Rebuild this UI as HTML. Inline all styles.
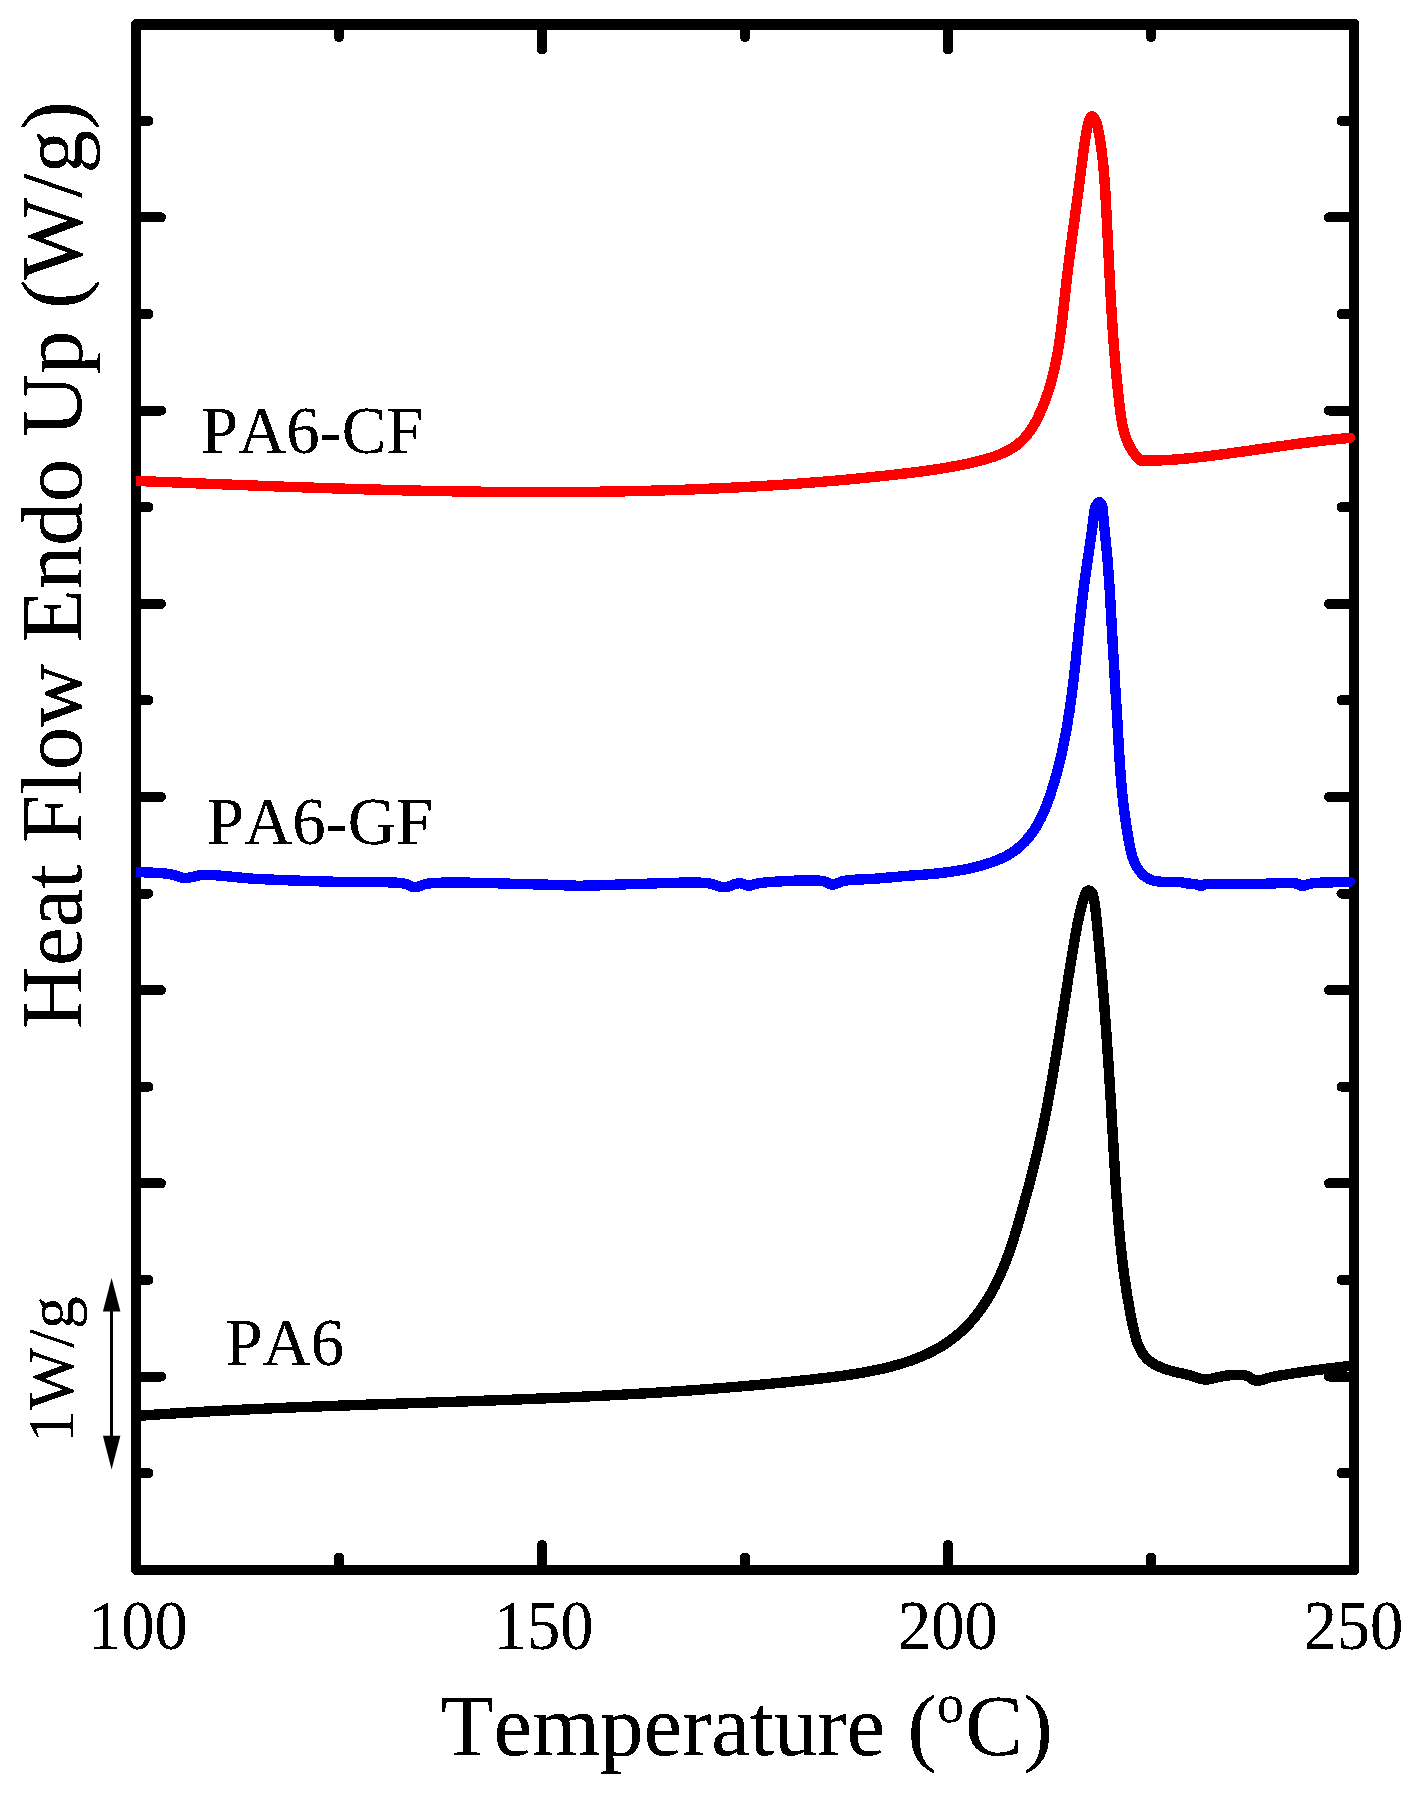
<!DOCTYPE html>
<html><head><meta charset="utf-8"><title>DSC</title>
<style>
html,body{margin:0;padding:0;background:#fff;}
body{width:1412px;height:1795px;overflow:hidden;}
svg{display:block;}
text{font-family:"Liberation Serif",serif;fill:#000;font-kerning:none;}
</style></head><body>
<svg width="1412" height="1795" viewBox="0 0 1412 1795">
<rect width="1412" height="1795" fill="#fff"/>
<g fill="#000" shape-rendering="crispEdges">
<path fill-rule="evenodd" d="M134 19L1356 19L1359 22L1359 1572L1356 1575L134 1575L131 1572L131 22ZM141 30L1349 30L1349 1565L141 1565Z"/>
</g>
<g stroke="#000" stroke-width="10" stroke-linecap="round" fill="none" shape-rendering="crispEdges">
<line x1="136.0" y1="217.4" x2="161.0" y2="217.4"/>
<line x1="1354.0" y1="217.4" x2="1329.0" y2="217.4"/>
<line x1="136.0" y1="410.6" x2="161.0" y2="410.6"/>
<line x1="1354.0" y1="410.6" x2="1329.0" y2="410.6"/>
<line x1="136.0" y1="603.8" x2="161.0" y2="603.8"/>
<line x1="1354.0" y1="603.8" x2="1329.0" y2="603.8"/>
<line x1="136.0" y1="796.9" x2="161.0" y2="796.9"/>
<line x1="1354.0" y1="796.9" x2="1329.0" y2="796.9"/>
<line x1="136.0" y1="990.1" x2="161.0" y2="990.1"/>
<line x1="1354.0" y1="990.1" x2="1329.0" y2="990.1"/>
<line x1="136.0" y1="1183.3" x2="161.0" y2="1183.3"/>
<line x1="1354.0" y1="1183.3" x2="1329.0" y2="1183.3"/>
<line x1="136.0" y1="1376.5" x2="161.0" y2="1376.5"/>
<line x1="1354.0" y1="1376.5" x2="1329.0" y2="1376.5"/>
<line x1="136.0" y1="120.8" x2="148.5" y2="120.8"/>
<line x1="1354.0" y1="120.8" x2="1341.5" y2="120.8"/>
<line x1="136.0" y1="314.0" x2="148.5" y2="314.0"/>
<line x1="1354.0" y1="314.0" x2="1341.5" y2="314.0"/>
<line x1="136.0" y1="507.2" x2="148.5" y2="507.2"/>
<line x1="1354.0" y1="507.2" x2="1341.5" y2="507.2"/>
<line x1="136.0" y1="700.3" x2="148.5" y2="700.3"/>
<line x1="1354.0" y1="700.3" x2="1341.5" y2="700.3"/>
<line x1="136.0" y1="893.5" x2="148.5" y2="893.5"/>
<line x1="1354.0" y1="893.5" x2="1341.5" y2="893.5"/>
<line x1="136.0" y1="1086.7" x2="148.5" y2="1086.7"/>
<line x1="1354.0" y1="1086.7" x2="1341.5" y2="1086.7"/>
<line x1="136.0" y1="1279.9" x2="148.5" y2="1279.9"/>
<line x1="1354.0" y1="1279.9" x2="1341.5" y2="1279.9"/>
<line x1="136.0" y1="1473.1" x2="148.5" y2="1473.1"/>
<line x1="1354.0" y1="1473.1" x2="1341.5" y2="1473.1"/>
<line x1="542.0" y1="24.5" x2="542.0" y2="49.5"/>
<line x1="542.0" y1="1570.0" x2="542.0" y2="1545.0"/>
<line x1="948.0" y1="24.5" x2="948.0" y2="49.5"/>
<line x1="948.0" y1="1570.0" x2="948.0" y2="1545.0"/>
<line x1="339.0" y1="24.5" x2="339.0" y2="37.0"/>
<line x1="339.0" y1="1570.0" x2="339.0" y2="1557.5"/>
<line x1="745.0" y1="24.5" x2="745.0" y2="37.0"/>
<line x1="745.0" y1="1570.0" x2="745.0" y2="1557.5"/>
<line x1="1151.0" y1="24.5" x2="1151.0" y2="37.0"/>
<line x1="1151.0" y1="1570.0" x2="1151.0" y2="1557.5"/>
</g>
<clipPath id="cp"><rect x="136" y="0" width="1300" height="1795"/></clipPath>
<g fill="none" stroke-width="10.4" stroke-linecap="round" stroke-linejoin="round" clip-path="url(#cp)" shape-rendering="crispEdges">
<path stroke="#000" d="M120.0 1417.2 L122.0 1417.0 L124.0 1416.9 L126.0 1416.7 L128.0 1416.6 L130.0 1416.4 L132.0 1416.3 L134.0 1416.2 L136.0 1416.0 L138.0 1415.9 L140.0 1415.7 L142.0 1415.6 L144.0 1415.4 L146.0 1415.3 L148.0 1415.2 L150.0 1415.0 L152.0 1414.9 L154.0 1414.7 L156.0 1414.6 L158.0 1414.5 L160.0 1414.3 L162.0 1414.2 L164.0 1414.1 L166.0 1414.0 L168.0 1413.8 L170.0 1413.7 L172.0 1413.6 L174.0 1413.4 L176.0 1413.3 L178.0 1413.2 L180.0 1413.1 L182.0 1413.0 L184.0 1412.8 L186.0 1412.7 L188.0 1412.6 L190.0 1412.5 L192.0 1412.4 L194.0 1412.2 L196.0 1412.1 L198.0 1412.0 L200.0 1411.9 L202.0 1411.8 L204.0 1411.7 L206.0 1411.6 L208.0 1411.5 L210.0 1411.3 L212.0 1411.2 L214.0 1411.1 L216.0 1411.0 L218.0 1410.9 L220.0 1410.8 L222.0 1410.7 L224.0 1410.6 L226.0 1410.5 L228.0 1410.4 L230.0 1410.3 L232.0 1410.2 L234.0 1410.1 L236.0 1410.0 L238.0 1409.9 L240.0 1409.8 L242.0 1409.7 L244.0 1409.6 L246.0 1409.5 L248.0 1409.4 L250.0 1409.3 L252.0 1409.2 L254.0 1409.1 L256.0 1409.0 L258.0 1408.9 L260.0 1408.9 L262.0 1408.8 L264.0 1408.7 L266.0 1408.6 L268.0 1408.5 L270.0 1408.4 L272.0 1408.3 L274.0 1408.2 L276.0 1408.1 L278.0 1408.1 L280.0 1408.0 L282.0 1407.9 L284.0 1407.8 L286.0 1407.7 L288.0 1407.6 L290.0 1407.6 L292.0 1407.5 L294.0 1407.4 L296.0 1407.3 L298.0 1407.2 L300.0 1407.2 L302.0 1407.1 L304.0 1407.0 L306.0 1406.9 L308.0 1406.8 L310.0 1406.8 L312.0 1406.7 L314.0 1406.6 L316.0 1406.5 L318.0 1406.4 L320.0 1406.4 L322.0 1406.3 L324.0 1406.2 L326.0 1406.1 L328.0 1406.1 L330.0 1406.0 L332.0 1405.9 L334.0 1405.9 L336.0 1405.8 L338.0 1405.7 L340.0 1405.6 L342.0 1405.6 L344.0 1405.5 L346.0 1405.4 L348.0 1405.3 L350.0 1405.3 L352.0 1405.2 L354.0 1405.1 L356.0 1405.1 L358.0 1405.0 L360.0 1404.9 L362.0 1404.9 L364.0 1404.8 L366.0 1404.7 L368.0 1404.6 L370.0 1404.6 L372.0 1404.5 L374.0 1404.4 L376.0 1404.4 L378.0 1404.3 L380.0 1404.2 L382.0 1404.2 L384.0 1404.1 L386.0 1404.0 L388.0 1404.0 L390.0 1403.9 L392.0 1403.8 L394.0 1403.8 L396.0 1403.7 L398.0 1403.6 L400.0 1403.6 L402.0 1403.5 L404.0 1403.4 L406.0 1403.4 L408.0 1403.3 L410.0 1403.2 L412.0 1403.2 L414.0 1403.1 L416.0 1403.0 L418.0 1403.0 L420.0 1402.9 L422.0 1402.8 L424.0 1402.8 L426.0 1402.7 L428.0 1402.6 L430.0 1402.6 L432.0 1402.5 L434.0 1402.4 L436.0 1402.3 L438.0 1402.3 L440.0 1402.2 L442.0 1402.1 L444.0 1402.1 L446.0 1402.0 L448.0 1401.9 L450.0 1401.9 L452.0 1401.8 L454.0 1401.7 L456.0 1401.7 L458.0 1401.6 L460.0 1401.5 L462.0 1401.5 L464.0 1401.4 L466.0 1401.3 L468.0 1401.3 L470.0 1401.2 L472.0 1401.1 L474.0 1401.0 L476.0 1401.0 L478.0 1400.9 L480.0 1400.8 L482.0 1400.8 L484.0 1400.7 L486.0 1400.6 L488.0 1400.5 L490.0 1400.5 L492.0 1400.4 L494.0 1400.3 L496.0 1400.3 L498.0 1400.2 L500.0 1400.1 L502.0 1400.0 L504.0 1400.0 L506.0 1399.9 L508.0 1399.8 L510.0 1399.7 L512.0 1399.7 L514.0 1399.6 L516.0 1399.5 L518.0 1399.4 L520.0 1399.4 L522.0 1399.3 L524.0 1399.2 L526.0 1399.1 L528.0 1399.0 L530.0 1399.0 L532.0 1398.9 L534.0 1398.8 L536.0 1398.7 L538.0 1398.6 L540.0 1398.6 L542.0 1398.5 L544.0 1398.4 L546.0 1398.3 L548.0 1398.2 L550.0 1398.1 L552.0 1398.0 L554.0 1398.0 L556.0 1397.9 L558.0 1397.8 L560.0 1397.7 L562.0 1397.6 L564.0 1397.5 L566.0 1397.4 L568.0 1397.3 L570.0 1397.3 L572.0 1397.2 L574.0 1397.1 L576.0 1397.0 L578.0 1396.9 L580.0 1396.8 L582.0 1396.7 L584.0 1396.6 L586.0 1396.5 L588.0 1396.4 L590.0 1396.3 L592.0 1396.2 L594.0 1396.1 L596.0 1396.0 L598.0 1395.9 L600.0 1395.8 L602.0 1395.7 L604.0 1395.6 L606.0 1395.5 L608.0 1395.4 L610.0 1395.3 L612.0 1395.2 L614.0 1395.1 L616.0 1395.0 L618.0 1394.9 L620.0 1394.8 L622.0 1394.7 L624.0 1394.5 L626.0 1394.4 L628.0 1394.3 L630.0 1394.2 L632.0 1394.1 L634.0 1394.0 L636.0 1393.9 L638.0 1393.8 L640.0 1393.6 L642.0 1393.5 L644.0 1393.4 L646.1 1393.3 L648.1 1393.2 L650.1 1393.0 L652.1 1392.9 L654.1 1392.8 L656.1 1392.7 L658.1 1392.5 L660.1 1392.4 L662.1 1392.3 L664.1 1392.2 L666.1 1392.0 L668.1 1391.9 L670.1 1391.8 L672.1 1391.6 L674.1 1391.5 L676.1 1391.4 L678.1 1391.2 L680.1 1391.1 L682.1 1391.0 L684.1 1390.8 L686.1 1390.7 L688.0 1390.5 L690.0 1390.4 L692.0 1390.3 L694.0 1390.1 L696.0 1390.0 L698.0 1389.8 L700.0 1389.7 L702.0 1389.5 L704.0 1389.4 L706.0 1389.2 L708.0 1389.1 L710.0 1388.9 L712.0 1388.8 L714.0 1388.6 L716.0 1388.5 L718.0 1388.3 L720.0 1388.2 L722.0 1388.0 L724.0 1387.8 L726.0 1387.7 L728.0 1387.5 L730.0 1387.3 L732.0 1387.2 L734.0 1387.0 L736.0 1386.9 L738.0 1386.7 L740.0 1386.5 L742.0 1386.3 L744.0 1386.2 L746.0 1386.0 L747.9 1385.8 L749.9 1385.6 L751.9 1385.5 L753.9 1385.3 L755.9 1385.1 L757.9 1384.9 L759.9 1384.7 L761.9 1384.6 L763.9 1384.4 L765.9 1384.2 L767.9 1384.0 L769.9 1383.8 L771.9 1383.6 L773.8 1383.4 L775.8 1383.2 L777.8 1383.0 L779.8 1382.9 L781.8 1382.7 L783.8 1382.5 L785.8 1382.3 L787.8 1382.1 L789.7 1381.9 L791.7 1381.7 L793.7 1381.4 L795.7 1381.2 L797.7 1381.0 L799.7 1380.8 L801.7 1380.6 L803.7 1380.4 L805.6 1380.2 L807.6 1380.0 L809.6 1379.8 L811.6 1379.5 L813.6 1379.3 L815.6 1379.1 L817.5 1378.9 L819.5 1378.6 L821.5 1378.4 L823.5 1378.2 L825.5 1378.0 L827.4 1377.7 L829.4 1377.5 L831.4 1377.2 L833.4 1377.0 L835.4 1376.7 L837.3 1376.5 L839.3 1376.2 L841.3 1376.0 L843.3 1375.7 L845.3 1375.4 L847.2 1375.1 L849.2 1374.8 L851.2 1374.5 L853.2 1374.2 L855.1 1373.9 L857.1 1373.6 L859.1 1373.3 L861.1 1372.9 L863.0 1372.6 L865.0 1372.2 L867.0 1371.9 L869.0 1371.5 L870.9 1371.1 L872.9 1370.7 L874.9 1370.3 L876.9 1369.9 L878.8 1369.5 L880.8 1369.0 L882.8 1368.6 L884.7 1368.1 L886.7 1367.7 L888.7 1367.2 L890.6 1366.7 L892.6 1366.2 L894.5 1365.6 L896.5 1365.1 L898.4 1364.5 L900.4 1364.0 L902.3 1363.4 L904.2 1362.8 L906.1 1362.1 L908.1 1361.5 L910.0 1360.9 L911.9 1360.2 L913.7 1359.5 L915.6 1358.8 L917.5 1358.1 L919.3 1357.3 L921.2 1356.5 L923.0 1355.7 L924.9 1354.9 L926.7 1354.1 L928.5 1353.3 L930.3 1352.4 L932.1 1351.5 L933.8 1350.6 L935.6 1349.6 L937.3 1348.7 L939.1 1347.7 L940.8 1346.7 L942.5 1345.7 L944.1 1344.6 L945.8 1343.5 L947.5 1342.4 L949.1 1341.3 L950.7 1340.1 L952.3 1338.9 L953.9 1337.7 L955.4 1336.5 L957.0 1335.2 L958.5 1333.9 L960.0 1332.6 L961.5 1331.3 L963.0 1329.9 L964.4 1328.5 L965.8 1327.1 L967.2 1325.6 L968.6 1324.2 L970.0 1322.7 L971.3 1321.2 L972.7 1319.7 L974.0 1318.1 L975.2 1316.6 L976.5 1315.0 L977.7 1313.4 L979.0 1311.8 L980.2 1310.2 L981.3 1308.5 L982.5 1306.9 L983.6 1305.2 L984.7 1303.5 L985.8 1301.9 L986.9 1300.2 L987.9 1298.5 L989.0 1296.8 L990.0 1295.0 L991.0 1293.3 L991.9 1291.6 L992.9 1289.8 L993.8 1288.1 L994.8 1286.3 L995.7 1284.5 L996.5 1282.7 L997.4 1280.9 L998.3 1279.1 L999.1 1277.3 L999.9 1275.5 L1000.7 1273.7 L1001.5 1271.9 L1002.3 1270.0 L1003.1 1268.2 L1003.8 1266.4 L1004.6 1264.5 L1005.3 1262.6 L1006.0 1260.8 L1006.7 1258.9 L1007.4 1257.0 L1008.1 1255.2 L1008.8 1253.3 L1009.4 1251.4 L1010.1 1249.5 L1010.7 1247.6 L1011.4 1245.7 L1012.0 1243.8 L1012.6 1241.9 L1013.3 1240.0 L1013.9 1238.0 L1014.5 1236.1 L1015.1 1234.2 L1015.6 1232.3 L1016.2 1230.4 L1016.8 1228.4 L1017.4 1226.5 L1017.9 1224.6 L1018.5 1222.6 L1019.1 1220.7 L1019.6 1218.8 L1020.2 1216.9 L1020.7 1214.9 L1021.3 1213.0 L1021.8 1211.1 L1022.4 1209.1 L1022.9 1207.2 L1023.5 1205.3 L1024.0 1203.3 L1024.6 1201.4 L1025.1 1199.5 L1025.6 1197.5 L1026.2 1195.6 L1026.7 1193.7 L1027.2 1191.7 L1027.7 1189.8 L1028.3 1187.9 L1028.8 1185.9 L1029.3 1184.0 L1029.8 1182.0 L1030.3 1180.1 L1030.8 1178.2 L1031.3 1176.2 L1031.8 1174.3 L1032.3 1172.4 L1032.8 1170.4 L1033.3 1168.5 L1033.8 1166.5 L1034.3 1164.6 L1034.8 1162.7 L1035.2 1160.7 L1035.7 1158.8 L1036.2 1156.8 L1036.7 1154.9 L1037.1 1153.0 L1037.6 1151.0 L1038.0 1149.1 L1038.5 1147.1 L1038.9 1145.2 L1039.4 1143.2 L1039.8 1141.3 L1040.3 1139.3 L1040.7 1137.4 L1041.1 1135.4 L1041.6 1133.5 L1042.0 1131.5 L1042.4 1129.6 L1042.8 1127.6 L1043.2 1125.7 L1043.6 1123.7 L1044.0 1121.8 L1044.4 1119.8 L1044.8 1117.9 L1045.2 1115.9 L1045.6 1113.9 L1046.0 1112.0 L1046.4 1110.0 L1046.8 1108.1 L1047.1 1106.1 L1047.5 1104.1 L1047.9 1102.2 L1048.3 1100.2 L1048.6 1098.3 L1049.0 1096.3 L1049.4 1094.3 L1049.7 1092.4 L1050.1 1090.4 L1050.4 1088.4 L1050.8 1086.5 L1051.1 1084.5 L1051.5 1082.5 L1051.8 1080.6 L1052.2 1078.6 L1052.5 1076.6 L1052.9 1074.6 L1053.2 1072.7 L1053.5 1070.7 L1053.9 1068.7 L1054.2 1066.7 L1054.5 1064.8 L1054.9 1062.8 L1055.2 1060.8 L1055.5 1058.8 L1055.9 1056.9 L1056.2 1054.9 L1056.5 1052.9 L1056.8 1050.9 L1057.1 1048.9 L1057.5 1046.9 L1057.8 1045.0 L1058.1 1043.0 L1058.4 1041.0 L1058.7 1039.0 L1059.1 1037.0 L1059.4 1035.0 L1059.7 1033.0 L1060.0 1031.1 L1060.3 1029.1 L1060.6 1027.1 L1061.0 1025.1 L1061.3 1023.1 L1061.6 1021.1 L1061.9 1019.1 L1062.2 1017.1 L1062.5 1015.1 L1062.8 1013.2 L1063.1 1011.2 L1063.5 1009.2 L1063.8 1007.2 L1064.1 1005.2 L1064.4 1003.2 L1064.7 1001.2 L1065.0 999.2 L1065.3 997.3 L1065.6 995.3 L1065.9 993.3 L1066.3 991.3 L1066.6 989.3 L1066.9 987.4 L1067.2 985.4 L1067.5 983.4 L1067.8 981.4 L1068.1 979.5 L1068.4 977.5 L1068.8 975.5 L1069.1 973.5 L1069.4 971.6 L1069.7 969.6 L1070.0 967.6 L1070.3 965.7 L1070.6 963.7 L1071.0 961.8 L1071.3 959.8 L1071.6 957.8 L1071.9 955.9 L1072.2 953.9 L1072.6 952.0 L1072.9 950.1 L1073.2 948.1 L1073.5 946.2 L1073.9 944.2 L1074.2 942.3 L1074.5 940.4 L1074.8 938.4 L1075.2 936.5 L1075.5 934.6 L1075.9 932.7 L1076.2 930.7 L1076.6 928.8 L1076.9 926.9 L1077.3 924.9 L1077.7 923.0 L1078.1 921.1 L1078.5 919.1 L1078.9 917.1 L1079.4 915.2 L1079.8 913.2 L1080.3 911.2 L1080.8 909.3 L1081.3 907.3 L1081.8 905.2 L1082.4 903.2 L1082.9 901.2 L1083.5 899.2 L1084.2 897.1 L1084.8 895.0 L1085.6 893.1 L1086.7 891.5 L1088.3 890.6 L1090.0 890.8 L1091.5 892.1 L1092.5 893.9 L1093.2 895.9 L1093.8 898.1 L1094.2 900.2 L1094.5 902.2 L1094.8 904.2 L1095.1 906.2 L1095.3 908.2 L1095.5 910.1 L1095.7 912.1 L1096.0 914.1 L1096.2 916.0 L1096.4 918.0 L1096.6 920.0 L1096.8 921.9 L1097.0 923.9 L1097.2 925.9 L1097.4 927.9 L1097.6 929.8 L1097.8 931.8 L1098.0 933.8 L1098.2 935.8 L1098.4 937.7 L1098.6 939.7 L1098.8 941.7 L1099.0 943.7 L1099.2 945.7 L1099.3 947.6 L1099.5 949.6 L1099.7 951.6 L1099.9 953.6 L1100.1 955.6 L1100.3 957.6 L1100.5 959.5 L1100.6 961.5 L1100.8 963.5 L1101.0 965.5 L1101.2 967.5 L1101.3 969.5 L1101.5 971.5 L1101.7 973.5 L1101.9 975.4 L1102.0 977.4 L1102.2 979.4 L1102.4 981.4 L1102.5 983.4 L1102.7 985.4 L1102.9 987.4 L1103.0 989.4 L1103.2 991.4 L1103.3 993.4 L1103.5 995.4 L1103.7 997.4 L1103.8 999.4 L1104.0 1001.4 L1104.1 1003.3 L1104.3 1005.3 L1104.4 1007.3 L1104.6 1009.3 L1104.7 1011.3 L1104.9 1013.3 L1105.0 1015.3 L1105.2 1017.3 L1105.3 1019.3 L1105.5 1021.3 L1105.6 1023.3 L1105.8 1025.3 L1105.9 1027.3 L1106.1 1029.3 L1106.2 1031.3 L1106.4 1033.3 L1106.5 1035.3 L1106.6 1037.3 L1106.8 1039.3 L1106.9 1041.3 L1107.1 1043.3 L1107.2 1045.3 L1107.3 1047.3 L1107.5 1049.3 L1107.6 1051.3 L1107.7 1053.4 L1107.9 1055.4 L1108.0 1057.4 L1108.1 1059.4 L1108.3 1061.4 L1108.4 1063.4 L1108.5 1065.4 L1108.7 1067.4 L1108.8 1069.4 L1108.9 1071.4 L1109.0 1073.4 L1109.2 1075.4 L1109.3 1077.4 L1109.4 1079.4 L1109.6 1081.4 L1109.7 1083.4 L1109.8 1085.4 L1109.9 1087.4 L1110.0 1089.4 L1110.2 1091.4 L1110.3 1093.4 L1110.4 1095.4 L1110.5 1097.4 L1110.7 1099.4 L1110.8 1101.4 L1110.9 1103.4 L1111.0 1105.4 L1111.1 1107.4 L1111.3 1109.4 L1111.4 1111.4 L1111.5 1113.4 L1111.6 1115.4 L1111.7 1117.4 L1111.9 1119.4 L1112.0 1121.4 L1112.1 1123.4 L1112.2 1125.4 L1112.3 1127.4 L1112.4 1129.4 L1112.6 1131.4 L1112.7 1133.4 L1112.8 1135.4 L1112.9 1137.4 L1113.0 1139.4 L1113.1 1141.4 L1113.3 1143.4 L1113.4 1145.4 L1113.5 1147.4 L1113.6 1149.4 L1113.7 1151.4 L1113.8 1153.4 L1113.9 1155.4 L1114.1 1157.4 L1114.2 1159.4 L1114.3 1161.4 L1114.4 1163.4 L1114.5 1165.4 L1114.7 1167.4 L1114.8 1169.4 L1114.9 1171.4 L1115.0 1173.4 L1115.1 1175.3 L1115.3 1177.3 L1115.4 1179.3 L1115.5 1181.3 L1115.6 1183.3 L1115.8 1185.3 L1115.9 1187.3 L1116.0 1189.3 L1116.2 1191.3 L1116.3 1193.3 L1116.4 1195.3 L1116.6 1197.3 L1116.7 1199.2 L1116.9 1201.2 L1117.0 1203.2 L1117.1 1205.2 L1117.3 1207.2 L1117.4 1209.2 L1117.6 1211.2 L1117.8 1213.2 L1117.9 1215.2 L1118.1 1217.2 L1118.2 1219.1 L1118.4 1221.1 L1118.6 1223.1 L1118.7 1225.1 L1118.9 1227.1 L1119.1 1229.1 L1119.3 1231.1 L1119.5 1233.1 L1119.6 1235.1 L1119.8 1237.0 L1120.0 1239.0 L1120.2 1241.0 L1120.4 1243.0 L1120.6 1245.0 L1120.8 1247.0 L1121.0 1249.0 L1121.3 1251.0 L1121.5 1253.0 L1121.7 1254.9 L1121.9 1256.9 L1122.2 1258.9 L1122.4 1260.9 L1122.6 1262.9 L1122.9 1264.9 L1123.1 1266.9 L1123.4 1268.9 L1123.6 1270.9 L1123.9 1272.8 L1124.2 1274.8 L1124.4 1276.8 L1124.7 1278.8 L1125.0 1280.8 L1125.3 1282.8 L1125.6 1284.8 L1125.9 1286.8 L1126.2 1288.8 L1126.5 1290.8 L1126.8 1292.8 L1127.1 1294.7 L1127.4 1296.7 L1127.8 1298.7 L1128.1 1300.7 L1128.5 1302.7 L1128.8 1304.7 L1129.2 1306.7 L1129.5 1308.7 L1129.9 1310.7 L1130.2 1312.7 L1130.6 1314.7 L1131.0 1316.7 L1131.4 1318.7 L1131.8 1320.7 L1132.2 1322.6 L1132.6 1324.6 L1133.0 1326.6 L1133.5 1328.6 L1133.9 1330.6 L1134.4 1332.6 L1134.9 1334.5 L1135.4 1336.5 L1135.9 1338.4 L1136.5 1340.3 L1137.2 1342.1 L1137.8 1344.0 L1138.6 1345.8 L1139.4 1347.5 L1140.2 1349.2 L1141.1 1350.9 L1142.1 1352.5 L1143.1 1354.1 L1144.3 1355.6 L1145.5 1357.1 L1146.8 1358.5 L1148.1 1359.8 L1149.6 1361.0 L1151.2 1362.2 L1152.8 1363.3 L1154.6 1364.4 L1156.4 1365.3 L1158.3 1366.2 L1160.2 1367.1 L1162.2 1367.9 L1164.2 1368.6 L1166.3 1369.3 L1168.3 1370.0 L1170.4 1370.6 L1172.5 1371.2 L1174.5 1371.7 L1176.6 1372.2 L1178.6 1372.7 L1180.6 1373.2 L1182.6 1373.6 L1184.4 1374.0 L1186.3 1374.4 L1188.0 1374.8 L1189.7 1375.2 L1191.0 1375.6 L1192.3 1376.0 L1193.6 1376.4 L1194.9 1376.9 L1196.2 1377.3 L1197.5 1377.8 L1198.8 1378.2 L1200.1 1378.6 L1201.4 1378.9 L1202.6 1379.2 L1203.8 1379.4 L1205.0 1379.5 L1205.9 1379.5 L1206.8 1379.5 L1207.7 1379.4 L1208.5 1379.3 L1209.4 1379.1 L1210.2 1379.0 L1211.0 1378.8 L1211.9 1378.6 L1212.7 1378.4 L1213.5 1378.2 L1214.4 1378.0 L1215.3 1377.8 L1216.3 1377.6 L1217.3 1377.4 L1218.3 1377.2 L1219.4 1376.9 L1220.4 1376.7 L1221.4 1376.5 L1222.5 1376.2 L1223.6 1376.0 L1224.7 1375.8 L1225.8 1375.7 L1226.9 1375.5 L1228.1 1375.4 L1229.6 1375.3 L1231.2 1375.2 L1232.9 1375.1 L1234.6 1375.0 L1236.4 1375.0 L1238.1 1374.9 L1239.9 1375.0 L1241.6 1375.0 L1243.2 1375.2 L1244.7 1375.3 L1246.1 1375.6 L1247.3 1375.9 L1248.0 1376.2 L1248.6 1376.5 L1249.2 1376.8 L1249.7 1377.2 L1250.3 1377.6 L1250.7 1378.1 L1251.2 1378.5 L1251.7 1378.9 L1252.2 1379.3 L1252.7 1379.6 L1253.2 1379.9 L1253.7 1380.1 L1254.2 1380.2 L1254.7 1380.4 L1255.2 1380.5 L1255.7 1380.5 L1256.2 1380.6 L1256.7 1380.6 L1257.3 1380.6 L1257.8 1380.6 L1258.3 1380.6 L1258.9 1380.5 L1259.4 1380.5 L1260.0 1380.4 L1260.7 1380.3 L1261.5 1380.1 L1262.2 1379.9 L1263.0 1379.7 L1263.7 1379.5 L1264.5 1379.2 L1265.3 1378.9 L1266.2 1378.6 L1267.1 1378.3 L1268.0 1378.0 L1269.0 1377.8 L1270.0 1377.5 L1271.9 1377.1 L1273.9 1376.7 L1276.1 1376.3 L1278.4 1375.8 L1280.8 1375.4 L1283.3 1375.0 L1285.9 1374.6 L1288.5 1374.1 L1291.0 1373.7 L1293.5 1373.3 L1296.0 1373.0 L1298.3 1372.6 L1300.4 1372.3 L1302.5 1372.0 L1304.6 1371.7 L1306.6 1371.4 L1308.7 1371.1 L1310.7 1370.8 L1312.8 1370.5 L1314.8 1370.3 L1316.9 1370.0 L1318.9 1369.7 L1321.0 1369.5 L1323.1 1369.2 L1325.3 1368.9 L1327.5 1368.6 L1329.7 1368.4 L1332.0 1368.1 L1334.2 1367.8 L1336.5 1367.5 L1338.7 1367.3 L1341.0 1367.0 L1343.2 1366.7 L1345.5 1366.4 L1347.8 1366.2 L1350.0 1365.9"/>
<path stroke="#0000ff" d="M120.0 871.2 L121.3 871.3 L122.6 871.3 L123.9 871.4 L125.1 871.4 L126.4 871.5 L127.6 871.6 L128.9 871.6 L130.2 871.7 L131.6 871.8 L133.0 871.8 L134.5 871.9 L136.0 872.0 L138.4 872.1 L141.0 872.2 L143.8 872.3 L146.8 872.5 L149.8 872.6 L152.9 872.7 L155.9 872.9 L158.9 873.0 L161.9 873.2 L164.6 873.5 L167.2 873.8 L169.6 874.1 L171.1 874.4 L172.5 874.7 L173.8 875.1 L175.1 875.5 L176.3 875.9 L177.5 876.3 L178.7 876.7 L179.9 877.1 L181.0 877.4 L182.3 877.7 L183.5 877.9 L184.8 878.0 L186.2 878.0 L187.6 877.9 L189.0 877.7 L190.4 877.4 L191.8 877.1 L193.2 876.7 L194.6 876.4 L196.1 876.0 L197.7 875.7 L199.4 875.4 L201.1 875.1 L203.0 875.0 L206.5 874.9 L210.3 875.0 L214.4 875.2 L218.7 875.5 L223.2 875.9 L227.8 876.4 L232.7 876.8 L237.6 877.3 L242.6 877.8 L247.7 878.3 L252.8 878.7 L257.9 879.0 L264.4 879.3 L271.2 879.6 L278.2 879.9 L285.4 880.2 L292.8 880.5 L300.2 880.7 L307.6 881.0 L315.0 881.2 L322.3 881.4 L329.4 881.6 L336.3 881.8 L343.0 882.0 L348.6 882.1 L354.3 882.2 L360.1 882.2 L366.0 882.2 L371.7 882.2 L377.3 882.2 L382.7 882.2 L387.8 882.3 L392.5 882.5 L396.9 882.7 L400.7 883.0 L404.0 883.5 L405.2 883.8 L406.3 884.1 L407.3 884.5 L408.2 884.8 L409.0 885.2 L409.8 885.6 L410.6 886.0 L411.4 886.4 L412.1 886.7 L412.9 886.9 L413.8 887.1 L414.7 887.2 L415.7 887.2 L416.7 887.0 L417.7 886.8 L418.6 886.5 L419.6 886.1 L420.6 885.7 L421.6 885.3 L422.7 884.9 L424.0 884.5 L425.3 884.1 L426.8 883.8 L428.4 883.5 L434.1 883.0 L441.4 882.7 L450.0 882.5 L459.7 882.5 L470.1 882.7 L481.0 882.9 L492.0 883.1 L503.0 883.5 L513.5 883.8 L523.4 884.1 L532.3 884.3 L540.0 884.5 L544.0 884.6 L547.7 884.7 L551.2 884.8 L554.5 885.0 L557.7 885.1 L560.7 885.2 L563.8 885.3 L566.8 885.5 L569.8 885.6 L572.9 885.6 L576.2 885.7 L579.6 885.7 L583.6 885.7 L587.7 885.6 L591.7 885.5 L595.9 885.4 L600.0 885.3 L604.2 885.1 L608.5 884.9 L612.9 884.8 L617.3 884.6 L621.8 884.4 L626.3 884.3 L631.0 884.2 L637.0 884.0 L643.5 883.8 L650.4 883.6 L657.4 883.3 L664.6 883.1 L671.8 882.8 L678.8 882.7 L685.6 882.6 L692.0 882.5 L697.8 882.6 L703.0 882.8 L707.5 883.2 L709.3 883.5 L711.0 883.8 L712.6 884.2 L714.0 884.6 L715.4 885.1 L716.7 885.5 L717.9 886.0 L719.2 886.4 L720.4 886.7 L721.6 887.0 L722.9 887.1 L724.2 887.2 L725.5 887.1 L726.8 886.9 L728.2 886.5 L729.5 886.1 L730.8 885.7 L732.1 885.2 L733.4 884.7 L734.7 884.2 L736.0 883.8 L737.2 883.5 L738.4 883.3 L739.5 883.2 L740.3 883.3 L741.1 883.4 L741.9 883.6 L742.7 883.8 L743.4 884.1 L744.2 884.4 L744.9 884.7 L745.6 885.0 L746.3 885.3 L747.1 885.5 L747.8 885.6 L748.6 885.7 L749.4 885.7 L750.2 885.6 L750.9 885.4 L751.7 885.2 L752.4 885.0 L753.2 884.7 L754.0 884.4 L754.8 884.2 L755.7 883.9 L756.7 883.6 L757.8 883.4 L759.0 883.2 L762.6 882.8 L767.2 882.3 L772.5 881.9 L778.4 881.5 L784.7 881.1 L791.2 880.8 L797.7 880.6 L803.9 880.4 L809.8 880.4 L815.1 880.5 L819.5 880.7 L823.0 881.1 L824.1 881.3 L825.1 881.6 L825.9 881.9 L826.7 882.3 L827.4 882.7 L828.1 883.0 L828.8 883.4 L829.4 883.7 L830.1 884.0 L830.8 884.3 L831.5 884.4 L832.3 884.5 L833.2 884.5 L834.2 884.3 L835.1 884.1 L836.0 883.8 L837.0 883.4 L837.9 883.0 L838.9 882.6 L839.9 882.2 L841.0 881.8 L842.1 881.4 L843.3 881.1 L844.5 880.8 L846.5 880.5 L848.8 880.2 L851.1 880.0 L853.6 879.8 L856.2 879.6 L858.9 879.5 L861.6 879.4 L864.3 879.3 L867.0 879.2 L869.8 879.0 L872.4 878.9 L875.0 878.7 L877.5 878.5 L880.1 878.3 L882.6 878.1 L885.1 877.8 L887.7 877.6 L890.2 877.4 L892.7 877.2 L895.3 876.9 L897.8 876.7 L900.3 876.5 L902.9 876.2 L905.4 876.0 L907.5 875.8 L909.6 875.7 L911.7 875.5 L913.8 875.4 L915.8 875.2 L917.9 875.1 L919.9 874.9 L921.9 874.8 L923.9 874.6 L925.9 874.5 L927.9 874.3 L929.9 874.1 L931.8 873.9 L933.8 873.8 L935.7 873.6 L937.7 873.4 L939.6 873.2 L941.6 872.9 L943.5 872.7 L945.4 872.5 L947.3 872.2 L949.3 872.0 L951.2 871.7 L953.1 871.4 L955.0 871.1 L957.0 870.8 L958.9 870.5 L960.8 870.1 L962.8 869.8 L964.7 869.4 L966.6 869.0 L968.6 868.6 L970.5 868.2 L972.5 867.7 L974.5 867.3 L976.5 866.8 L978.5 866.3 L980.5 865.7 L982.5 865.2 L984.5 864.6 L986.5 864.0 L988.5 863.3 L990.5 862.7 L992.5 862.0 L994.4 861.2 L996.4 860.5 L998.3 859.7 L1000.2 858.9 L1002.1 858.0 L1004.0 857.1 L1005.8 856.2 L1007.6 855.2 L1009.3 854.2 L1011.1 853.2 L1012.7 852.1 L1014.4 850.9 L1016.0 849.8 L1017.5 848.6 L1019.0 847.3 L1020.5 846.0 L1021.9 844.7 L1023.3 843.3 L1024.7 842.0 L1026.0 840.5 L1027.3 839.1 L1028.5 837.6 L1029.7 836.1 L1030.9 834.5 L1032.1 833.0 L1033.2 831.4 L1034.3 829.7 L1035.3 828.1 L1036.3 826.4 L1037.3 824.7 L1038.3 823.0 L1039.3 821.2 L1040.2 819.5 L1041.1 817.7 L1041.9 815.9 L1042.8 814.1 L1043.6 812.3 L1044.4 810.4 L1045.2 808.6 L1045.9 806.7 L1046.7 804.8 L1047.4 802.9 L1048.1 801.0 L1048.8 799.1 L1049.5 797.2 L1050.1 795.2 L1050.8 793.3 L1051.4 791.4 L1052.0 789.4 L1052.6 787.5 L1053.2 785.5 L1053.8 783.6 L1054.4 781.7 L1055.0 779.7 L1055.5 777.8 L1056.1 775.8 L1056.6 773.9 L1057.1 771.9 L1057.7 769.9 L1058.2 768.0 L1058.7 766.0 L1059.1 764.1 L1059.6 762.1 L1060.1 760.2 L1060.6 758.2 L1061.0 756.2 L1061.5 754.3 L1061.9 752.3 L1062.3 750.3 L1062.8 748.4 L1063.2 746.4 L1063.6 744.4 L1064.0 742.5 L1064.4 740.5 L1064.7 738.5 L1065.1 736.6 L1065.5 734.6 L1065.9 732.6 L1066.2 730.6 L1066.6 728.7 L1066.9 726.7 L1067.3 724.7 L1067.6 722.7 L1067.9 720.8 L1068.2 718.8 L1068.5 716.8 L1068.9 714.8 L1069.2 712.9 L1069.5 710.9 L1069.8 708.9 L1070.0 706.9 L1070.3 704.9 L1070.6 702.9 L1070.9 701.0 L1071.2 699.0 L1071.4 697.0 L1071.7 695.0 L1071.9 693.0 L1072.2 691.0 L1072.4 689.0 L1072.7 687.1 L1072.9 685.1 L1073.2 683.1 L1073.4 681.1 L1073.7 679.1 L1073.9 677.1 L1074.1 675.1 L1074.3 673.1 L1074.6 671.1 L1074.8 669.2 L1075.0 667.2 L1075.2 665.2 L1075.5 663.2 L1075.7 661.2 L1075.9 659.2 L1076.1 657.2 L1076.3 655.2 L1076.5 653.2 L1076.7 651.2 L1076.9 649.2 L1077.1 647.2 L1077.4 645.3 L1077.6 643.3 L1077.8 641.3 L1078.0 639.3 L1078.2 637.3 L1078.4 635.3 L1078.6 633.3 L1078.8 631.3 L1079.0 629.3 L1079.2 627.3 L1079.4 625.3 L1079.7 623.3 L1079.9 621.3 L1080.1 619.3 L1080.3 617.4 L1080.5 615.4 L1080.7 613.4 L1081.0 611.4 L1081.2 609.4 L1081.4 607.4 L1081.6 605.4 L1081.9 603.4 L1082.1 601.4 L1082.3 599.4 L1082.6 597.4 L1082.8 595.5 L1083.1 593.5 L1083.3 591.5 L1083.6 589.5 L1083.8 587.5 L1084.1 585.5 L1084.4 583.5 L1084.6 581.5 L1084.9 579.6 L1085.2 577.6 L1085.5 575.6 L1085.7 573.6 L1086.0 571.6 L1086.3 569.6 L1086.6 567.6 L1086.9 565.7 L1087.2 563.7 L1087.5 561.7 L1087.7 559.7 L1088.0 557.7 L1088.3 555.7 L1088.6 553.7 L1088.9 551.8 L1089.2 549.8 L1089.5 547.8 L1089.8 545.8 L1090.1 543.8 L1090.3 541.8 L1090.6 539.8 L1090.9 537.8 L1091.2 535.8 L1091.5 533.9 L1091.7 531.9 L1092.0 529.9 L1092.3 527.9 L1092.5 525.9 L1092.8 523.9 L1093.0 521.9 L1093.3 519.9 L1093.5 517.9 L1093.8 515.9 L1094.0 513.9 L1094.3 511.9 L1094.6 509.9 L1095.1 507.9 L1095.9 506.0 L1097.1 504.0 L1098.5 502.5 L1099.9 502.3 L1101.1 503.6 L1102.0 505.7 L1102.6 507.8 L1102.9 509.9 L1103.1 512.0 L1103.2 514.0 L1103.3 516.0 L1103.5 518.0 L1103.6 520.0 L1103.8 522.0 L1104.0 524.0 L1104.2 525.9 L1104.4 527.9 L1104.6 529.9 L1104.8 531.9 L1105.0 533.9 L1105.2 535.8 L1105.4 537.8 L1105.6 539.8 L1105.8 541.8 L1106.0 543.8 L1106.2 545.8 L1106.4 547.8 L1106.6 549.8 L1106.8 551.7 L1107.0 553.7 L1107.2 555.7 L1107.3 557.7 L1107.5 559.7 L1107.7 561.7 L1107.8 563.7 L1108.0 565.7 L1108.1 567.7 L1108.3 569.7 L1108.4 571.7 L1108.6 573.7 L1108.7 575.7 L1108.9 577.7 L1109.0 579.7 L1109.1 581.7 L1109.3 583.7 L1109.4 585.7 L1109.5 587.7 L1109.7 589.7 L1109.8 591.7 L1109.9 593.8 L1110.0 595.8 L1110.1 597.8 L1110.3 599.8 L1110.4 601.8 L1110.5 603.8 L1110.6 605.8 L1110.7 607.8 L1110.8 609.8 L1110.9 611.8 L1111.1 613.8 L1111.2 615.8 L1111.3 617.8 L1111.4 619.9 L1111.5 621.9 L1111.6 623.9 L1111.7 625.9 L1111.8 627.9 L1111.9 629.9 L1112.0 631.9 L1112.2 633.9 L1112.3 635.9 L1112.4 637.9 L1112.5 639.9 L1112.6 641.9 L1112.7 643.9 L1112.8 645.9 L1113.0 647.9 L1113.1 649.9 L1113.2 651.9 L1113.3 653.9 L1113.4 655.9 L1113.5 657.9 L1113.7 659.9 L1113.8 661.9 L1113.9 663.9 L1114.0 665.9 L1114.1 667.9 L1114.3 669.9 L1114.4 671.9 L1114.5 673.9 L1114.6 675.9 L1114.7 677.9 L1114.9 679.9 L1115.0 681.9 L1115.1 683.9 L1115.2 685.9 L1115.3 687.9 L1115.5 689.9 L1115.6 691.9 L1115.7 693.9 L1115.8 695.9 L1115.9 697.9 L1116.1 699.9 L1116.2 701.9 L1116.3 703.9 L1116.4 705.9 L1116.5 707.9 L1116.7 709.9 L1116.8 711.9 L1116.9 713.9 L1117.0 716.0 L1117.1 718.0 L1117.3 720.0 L1117.4 722.0 L1117.5 724.0 L1117.6 726.0 L1117.7 728.0 L1117.8 730.0 L1118.0 732.0 L1118.1 734.0 L1118.2 736.0 L1118.3 738.0 L1118.4 740.0 L1118.5 742.0 L1118.6 744.0 L1118.8 746.0 L1118.9 748.0 L1119.0 750.0 L1119.1 752.1 L1119.2 754.1 L1119.4 756.1 L1119.5 758.1 L1119.6 760.1 L1119.7 762.1 L1119.9 764.1 L1120.0 766.1 L1120.1 768.1 L1120.3 770.1 L1120.4 772.1 L1120.6 774.1 L1120.7 776.1 L1120.9 778.1 L1121.0 780.1 L1121.2 782.1 L1121.4 784.1 L1121.6 786.1 L1121.7 788.1 L1121.9 790.1 L1122.1 792.1 L1122.3 794.1 L1122.5 796.1 L1122.7 798.0 L1122.9 800.0 L1123.2 802.0 L1123.4 804.0 L1123.6 806.0 L1123.9 808.0 L1124.1 809.9 L1124.4 811.9 L1124.6 813.9 L1124.9 815.9 L1125.2 817.9 L1125.5 819.9 L1125.7 821.8 L1126.0 823.8 L1126.3 825.8 L1126.6 827.8 L1127.0 829.8 L1127.3 831.8 L1127.6 833.8 L1127.9 835.8 L1128.3 837.8 L1128.6 839.8 L1129.0 841.8 L1129.3 843.8 L1129.7 845.8 L1130.1 847.7 L1130.5 849.7 L1131.0 851.7 L1131.5 853.6 L1132.0 855.6 L1132.6 857.5 L1133.3 859.4 L1134.0 861.2 L1134.8 863.1 L1135.7 864.8 L1136.6 866.6 L1137.7 868.3 L1138.8 870.0 L1140.0 871.5 L1141.3 873.0 L1142.7 874.5 L1144.1 875.8 L1145.7 877.0 L1147.3 878.0 L1149.0 879.0 L1150.8 879.8 L1152.6 880.4 L1154.5 880.9 L1156.5 881.2 L1158.5 881.5 L1160.6 881.7 L1162.7 881.7 L1164.8 881.8 L1166.9 881.8 L1169.1 881.8 L1171.2 881.8 L1173.3 881.8 L1175.4 881.8 L1177.4 881.9 L1179.4 882.1 L1181.3 882.3 L1183.2 882.7 L1185.0 883.2 L1186.0 883.3 L1187.0 883.4 L1188.0 883.5 L1189.0 883.6 L1190.0 883.6 L1190.9 883.7 L1191.8 883.8 L1192.7 883.9 L1193.6 884.0 L1194.4 884.1 L1195.2 884.3 L1196.0 884.4 L1196.5 884.5 L1197.0 884.6 L1197.4 884.8 L1197.9 884.9 L1198.3 885.1 L1198.7 885.3 L1199.1 885.4 L1199.5 885.5 L1199.9 885.6 L1200.3 885.7 L1200.7 885.8 L1201.1 885.8 L1201.5 885.8 L1201.9 885.7 L1202.3 885.6 L1202.7 885.5 L1203.1 885.3 L1203.5 885.1 L1203.9 884.9 L1204.3 884.8 L1204.7 884.6 L1205.2 884.4 L1205.7 884.3 L1206.2 884.2 L1207.1 884.1 L1208.0 884.0 L1209.0 883.9 L1210.1 883.8 L1211.1 883.8 L1212.3 883.8 L1213.5 883.7 L1214.7 883.7 L1215.9 883.7 L1217.3 883.7 L1218.6 883.7 L1220.0 883.7 L1222.3 883.7 L1224.8 883.7 L1227.5 883.7 L1230.3 883.7 L1233.2 883.7 L1236.2 883.8 L1239.2 883.8 L1242.3 883.8 L1245.4 883.9 L1248.5 883.9 L1251.6 883.9 L1254.7 883.9 L1258.2 883.9 L1261.9 883.8 L1265.8 883.7 L1269.8 883.5 L1273.9 883.4 L1277.9 883.2 L1281.7 883.1 L1285.4 883.1 L1288.8 883.1 L1291.8 883.1 L1294.5 883.3 L1296.6 883.6 L1297.3 883.8 L1297.8 883.9 L1298.4 884.1 L1298.8 884.4 L1299.2 884.6 L1299.6 884.8 L1300.0 885.1 L1300.4 885.3 L1300.8 885.5 L1301.2 885.6 L1301.7 885.7 L1302.2 885.8 L1302.9 885.8 L1303.6 885.7 L1304.3 885.6 L1305.0 885.4 L1305.7 885.2 L1306.5 884.9 L1307.3 884.6 L1308.1 884.3 L1309.0 884.1 L1309.9 883.8 L1310.9 883.6 L1312.0 883.4 L1314.3 883.1 L1316.9 882.9 L1319.7 882.7 L1322.8 882.6 L1326.1 882.5 L1329.4 882.4 L1332.9 882.3 L1336.4 882.2 L1339.9 882.2 L1343.4 882.1 L1346.8 882.0 L1350.0 881.9"/>
<path stroke="#ff0000" d="M120.0 480.2 L122.0 480.3 L124.0 480.4 L126.0 480.4 L128.0 480.5 L130.0 480.6 L132.0 480.7 L134.0 480.8 L136.0 480.8 L138.0 480.9 L140.0 481.0 L142.0 481.1 L144.0 481.2 L146.0 481.3 L148.1 481.3 L150.1 481.4 L152.1 481.5 L154.1 481.6 L156.1 481.7 L158.1 481.7 L160.1 481.8 L162.1 481.9 L164.1 482.0 L166.1 482.1 L168.1 482.1 L170.1 482.2 L172.1 482.3 L174.1 482.4 L176.1 482.5 L178.1 482.6 L180.1 482.6 L182.1 482.7 L184.1 482.8 L186.1 482.9 L188.1 483.0 L190.1 483.0 L192.1 483.1 L194.1 483.2 L196.1 483.3 L198.1 483.4 L200.1 483.4 L202.1 483.5 L204.1 483.6 L206.1 483.7 L208.1 483.8 L210.1 483.8 L212.1 483.9 L214.1 484.0 L216.2 484.1 L218.2 484.2 L220.2 484.2 L222.2 484.3 L224.2 484.4 L226.2 484.5 L228.2 484.5 L230.2 484.6 L232.2 484.7 L234.2 484.8 L236.2 484.9 L238.2 484.9 L240.2 485.0 L242.2 485.1 L244.2 485.2 L246.2 485.2 L248.2 485.3 L250.2 485.4 L252.2 485.5 L254.2 485.5 L256.2 485.6 L258.2 485.7 L260.2 485.8 L262.2 485.8 L264.2 485.9 L266.2 486.0 L268.2 486.1 L270.2 486.1 L272.2 486.2 L274.2 486.3 L276.2 486.4 L278.2 486.4 L280.2 486.5 L282.2 486.6 L284.2 486.7 L286.2 486.7 L288.2 486.8 L290.2 486.9 L292.2 486.9 L294.2 487.0 L296.2 487.1 L298.2 487.2 L300.2 487.2 L302.2 487.3 L304.2 487.4 L306.2 487.4 L308.2 487.5 L310.2 487.6 L312.2 487.6 L314.2 487.7 L316.3 487.8 L318.3 487.8 L320.3 487.9 L322.3 488.0 L324.3 488.0 L326.3 488.1 L328.3 488.2 L330.3 488.2 L332.3 488.3 L334.3 488.4 L336.3 488.4 L338.3 488.5 L340.3 488.5 L342.3 488.6 L344.3 488.7 L346.3 488.7 L348.3 488.8 L350.3 488.8 L352.3 488.9 L354.3 489.0 L356.3 489.0 L358.3 489.1 L360.3 489.1 L362.3 489.2 L364.3 489.3 L366.3 489.3 L368.3 489.4 L370.3 489.4 L372.3 489.5 L374.3 489.5 L376.3 489.6 L378.3 489.6 L380.3 489.7 L382.3 489.8 L384.3 489.8 L386.3 489.9 L388.3 489.9 L390.3 490.0 L392.3 490.0 L394.3 490.1 L396.3 490.1 L398.3 490.2 L400.3 490.2 L402.3 490.3 L404.3 490.3 L406.3 490.4 L408.3 490.4 L410.3 490.4 L412.3 490.5 L414.3 490.5 L416.3 490.6 L418.3 490.6 L420.3 490.7 L422.3 490.7 L424.3 490.7 L426.3 490.8 L428.4 490.8 L430.4 490.9 L432.4 490.9 L434.4 490.9 L436.4 491.0 L438.4 491.0 L440.4 491.1 L442.4 491.1 L444.4 491.1 L446.4 491.2 L448.4 491.2 L450.4 491.2 L452.4 491.3 L454.4 491.3 L456.4 491.3 L458.4 491.4 L460.4 491.4 L462.4 491.4 L464.4 491.5 L466.4 491.5 L468.4 491.5 L470.4 491.5 L472.4 491.6 L474.4 491.6 L476.4 491.6 L478.4 491.6 L480.4 491.7 L482.4 491.7 L484.4 491.7 L486.4 491.7 L488.4 491.8 L490.4 491.8 L492.4 491.8 L494.4 491.8 L496.4 491.8 L498.4 491.8 L500.4 491.9 L502.4 491.9 L504.4 491.9 L506.4 491.9 L508.4 491.9 L510.5 491.9 L512.5 492.0 L514.5 492.0 L516.5 492.0 L518.5 492.0 L520.5 492.0 L522.5 492.0 L524.5 492.0 L526.5 492.0 L528.5 492.0 L530.5 492.0 L532.5 492.0 L534.5 492.0 L536.5 492.0 L538.5 492.0 L540.5 492.0 L542.5 492.0 L544.5 492.0 L546.5 492.0 L548.5 492.0 L550.5 492.0 L552.5 492.0 L554.5 492.0 L556.5 492.0 L558.5 492.0 L560.5 492.0 L562.5 492.0 L564.5 492.0 L566.5 492.0 L568.6 492.0 L570.6 492.0 L572.6 491.9 L574.6 491.9 L576.6 491.9 L578.6 491.9 L580.6 491.9 L582.6 491.9 L584.6 491.8 L586.6 491.8 L588.6 491.8 L590.6 491.8 L592.6 491.8 L594.6 491.7 L596.6 491.7 L598.6 491.7 L600.6 491.7 L602.6 491.6 L604.6 491.6 L606.6 491.6 L608.6 491.5 L610.6 491.5 L612.6 491.5 L614.7 491.5 L616.7 491.4 L618.7 491.4 L620.7 491.3 L622.7 491.3 L624.7 491.3 L626.7 491.2 L628.7 491.2 L630.7 491.2 L632.7 491.1 L634.7 491.1 L636.7 491.0 L638.7 491.0 L640.7 490.9 L642.7 490.9 L644.7 490.8 L646.7 490.8 L648.7 490.7 L650.8 490.7 L652.8 490.6 L654.8 490.6 L656.8 490.5 L658.8 490.5 L660.8 490.4 L662.8 490.4 L664.8 490.3 L666.8 490.2 L668.8 490.2 L670.8 490.1 L672.8 490.1 L674.8 490.0 L676.8 489.9 L678.8 489.9 L680.8 489.8 L682.9 489.7 L684.9 489.7 L686.9 489.6 L688.9 489.5 L690.9 489.4 L692.9 489.4 L694.9 489.3 L696.9 489.2 L698.9 489.1 L700.9 489.1 L702.9 489.0 L704.9 488.9 L706.9 488.8 L708.9 488.7 L710.9 488.6 L712.9 488.5 L714.9 488.5 L717.0 488.4 L719.0 488.3 L721.0 488.2 L723.0 488.1 L725.0 488.0 L727.0 487.9 L729.0 487.8 L731.0 487.7 L733.0 487.6 L735.0 487.5 L737.0 487.4 L739.0 487.3 L741.0 487.2 L743.0 487.1 L745.0 487.0 L747.0 486.9 L749.0 486.8 L751.0 486.6 L753.0 486.5 L755.0 486.4 L757.0 486.3 L759.0 486.2 L761.0 486.1 L763.0 485.9 L765.0 485.8 L767.0 485.7 L769.0 485.6 L771.0 485.5 L773.0 485.3 L775.0 485.2 L777.0 485.1 L779.0 484.9 L781.0 484.8 L783.0 484.7 L785.0 484.5 L787.0 484.4 L789.0 484.3 L791.0 484.1 L793.0 484.0 L795.0 483.8 L797.0 483.7 L799.0 483.5 L801.0 483.4 L803.0 483.2 L805.0 483.1 L807.0 482.9 L809.0 482.8 L811.0 482.6 L813.0 482.5 L815.0 482.3 L817.0 482.2 L819.0 482.0 L821.0 481.8 L823.0 481.7 L825.0 481.5 L827.0 481.3 L829.0 481.2 L831.0 481.0 L833.0 480.8 L835.0 480.7 L836.9 480.5 L838.9 480.3 L840.9 480.1 L842.9 479.9 L844.9 479.8 L846.9 479.6 L848.9 479.4 L850.9 479.2 L852.9 479.0 L854.9 478.8 L856.9 478.6 L858.8 478.4 L860.8 478.2 L862.8 478.0 L864.8 477.9 L866.8 477.7 L868.8 477.4 L870.8 477.2 L872.7 477.0 L874.7 476.8 L876.7 476.6 L878.7 476.4 L880.7 476.2 L882.7 476.0 L884.7 475.8 L886.6 475.6 L888.6 475.3 L890.6 475.1 L892.6 474.9 L894.6 474.7 L896.5 474.4 L898.5 474.2 L900.5 474.0 L902.5 473.7 L904.5 473.5 L906.4 473.3 L908.4 473.0 L910.4 472.8 L912.4 472.6 L914.3 472.3 L916.3 472.1 L918.3 471.8 L920.3 471.6 L922.2 471.3 L924.2 471.0 L926.2 470.8 L928.2 470.5 L930.1 470.2 L932.1 469.9 L934.1 469.6 L936.1 469.4 L938.0 469.0 L940.0 468.7 L942.0 468.4 L944.0 468.1 L946.0 467.8 L947.9 467.4 L949.9 467.1 L951.9 466.7 L953.9 466.4 L955.9 466.0 L957.8 465.6 L959.8 465.2 L961.8 464.8 L963.8 464.4 L965.8 464.0 L967.8 463.6 L969.8 463.1 L971.7 462.7 L973.7 462.2 L975.7 461.7 L977.7 461.2 L979.7 460.7 L981.7 460.2 L983.7 459.7 L985.7 459.1 L987.6 458.6 L989.6 458.0 L991.6 457.3 L993.5 456.7 L995.4 456.0 L997.3 455.3 L999.2 454.6 L1001.1 453.8 L1002.9 453.0 L1004.7 452.2 L1006.5 451.3 L1008.3 450.4 L1010.0 449.5 L1011.7 448.5 L1013.4 447.4 L1015.0 446.3 L1016.6 445.2 L1018.1 444.0 L1019.6 442.7 L1021.0 441.4 L1022.4 440.1 L1023.8 438.7 L1025.1 437.2 L1026.4 435.8 L1027.6 434.2 L1028.8 432.7 L1030.0 431.0 L1031.1 429.4 L1032.2 427.7 L1033.2 426.0 L1034.3 424.3 L1035.3 422.6 L1036.2 420.8 L1037.2 419.0 L1038.1 417.2 L1038.9 415.3 L1039.8 413.5 L1040.6 411.7 L1041.5 409.8 L1042.2 408.0 L1043.0 406.1 L1043.8 404.2 L1044.5 402.3 L1045.2 400.5 L1045.9 398.6 L1046.6 396.7 L1047.2 394.8 L1047.9 392.9 L1048.5 391.0 L1049.1 389.1 L1049.7 387.2 L1050.2 385.3 L1050.8 383.3 L1051.3 381.4 L1051.8 379.5 L1052.3 377.6 L1052.8 375.6 L1053.3 373.7 L1053.8 371.8 L1054.2 369.8 L1054.6 367.9 L1055.1 365.9 L1055.5 364.0 L1055.9 362.0 L1056.3 360.0 L1056.6 358.1 L1057.0 356.1 L1057.4 354.1 L1057.7 352.2 L1058.0 350.2 L1058.4 348.2 L1058.7 346.2 L1059.0 344.3 L1059.3 342.3 L1059.6 340.3 L1059.9 338.3 L1060.1 336.3 L1060.4 334.3 L1060.7 332.3 L1060.9 330.4 L1061.2 328.4 L1061.4 326.4 L1061.7 324.4 L1061.9 322.4 L1062.2 320.4 L1062.4 318.4 L1062.6 316.4 L1062.8 314.4 L1063.1 312.4 L1063.3 310.4 L1063.5 308.4 L1063.7 306.4 L1063.9 304.4 L1064.2 302.4 L1064.4 300.4 L1064.6 298.4 L1064.8 296.4 L1065.0 294.4 L1065.3 292.4 L1065.5 290.4 L1065.7 288.4 L1065.9 286.4 L1066.2 284.4 L1066.4 282.4 L1066.6 280.4 L1066.9 278.4 L1067.1 276.4 L1067.4 274.4 L1067.6 272.5 L1067.9 270.5 L1068.1 268.5 L1068.3 266.5 L1068.6 264.5 L1068.8 262.5 L1069.1 260.5 L1069.4 258.5 L1069.6 256.5 L1069.9 254.6 L1070.1 252.6 L1070.4 250.6 L1070.6 248.6 L1070.9 246.6 L1071.2 244.6 L1071.4 242.7 L1071.7 240.7 L1072.0 238.7 L1072.2 236.7 L1072.5 234.7 L1072.7 232.7 L1073.0 230.8 L1073.3 228.8 L1073.5 226.8 L1073.8 224.8 L1074.1 222.8 L1074.4 220.8 L1074.6 218.9 L1074.9 216.9 L1075.2 214.9 L1075.4 212.9 L1075.7 210.9 L1076.0 209.0 L1076.2 207.0 L1076.5 205.0 L1076.8 203.0 L1077.0 201.0 L1077.3 199.0 L1077.6 197.1 L1077.8 195.1 L1078.1 193.1 L1078.4 191.1 L1078.6 189.1 L1078.9 187.2 L1079.1 185.2 L1079.4 183.2 L1079.7 181.2 L1079.9 179.2 L1080.2 177.2 L1080.4 175.3 L1080.7 173.3 L1080.9 171.3 L1081.2 169.3 L1081.4 167.3 L1081.7 165.3 L1081.9 163.3 L1082.2 161.4 L1082.4 159.4 L1082.7 157.4 L1082.9 155.4 L1083.2 153.4 L1083.5 151.4 L1083.7 149.5 L1084.0 147.5 L1084.3 145.5 L1084.6 143.5 L1084.9 141.6 L1085.2 139.6 L1085.5 137.6 L1085.8 135.6 L1086.1 133.7 L1086.4 131.7 L1086.8 129.8 L1087.1 127.8 L1087.6 125.8 L1088.1 123.7 L1088.8 121.6 L1089.7 119.4 L1090.7 117.4 L1091.8 116.3 L1093.0 116.4 L1094.2 117.8 L1095.3 119.8 L1096.2 122.0 L1096.9 124.1 L1097.4 126.2 L1097.9 128.1 L1098.3 130.1 L1098.7 132.0 L1099.0 134.0 L1099.4 135.9 L1099.7 137.9 L1100.0 139.8 L1100.3 141.8 L1100.6 143.8 L1100.9 145.7 L1101.2 147.7 L1101.5 149.7 L1101.7 151.6 L1102.0 153.6 L1102.2 155.6 L1102.4 157.5 L1102.7 159.5 L1102.9 161.5 L1103.1 163.5 L1103.3 165.5 L1103.5 167.5 L1103.6 169.5 L1103.8 171.4 L1104.0 173.4 L1104.1 175.4 L1104.3 177.4 L1104.5 179.4 L1104.6 181.4 L1104.7 183.4 L1104.9 185.4 L1105.0 187.4 L1105.1 189.4 L1105.3 191.4 L1105.4 193.4 L1105.5 195.4 L1105.6 197.4 L1105.7 199.4 L1105.8 201.4 L1105.9 203.5 L1106.0 205.5 L1106.2 207.5 L1106.3 209.5 L1106.4 211.5 L1106.5 213.5 L1106.6 215.5 L1106.7 217.5 L1106.8 219.5 L1106.9 221.5 L1107.0 223.5 L1107.1 225.5 L1107.2 227.5 L1107.3 229.5 L1107.4 231.5 L1107.5 233.6 L1107.6 235.6 L1107.7 237.6 L1107.8 239.6 L1107.9 241.6 L1108.0 243.6 L1108.1 245.6 L1108.2 247.6 L1108.3 249.6 L1108.4 251.6 L1108.5 253.6 L1108.6 255.6 L1108.7 257.6 L1108.8 259.6 L1108.9 261.6 L1109.0 263.6 L1109.1 265.6 L1109.2 267.6 L1109.3 269.6 L1109.4 271.7 L1109.5 273.7 L1109.6 275.7 L1109.7 277.7 L1109.8 279.7 L1109.9 281.7 L1110.0 283.7 L1110.1 285.7 L1110.2 287.7 L1110.3 289.7 L1110.4 291.7 L1110.5 293.7 L1110.6 295.7 L1110.8 297.7 L1110.9 299.7 L1111.0 301.7 L1111.1 303.7 L1111.2 305.7 L1111.3 307.7 L1111.5 309.7 L1111.6 311.7 L1111.7 313.6 L1111.8 315.6 L1112.0 317.6 L1112.1 319.6 L1112.2 321.6 L1112.3 323.6 L1112.5 325.6 L1112.6 327.6 L1112.7 329.6 L1112.9 331.6 L1113.0 333.6 L1113.1 335.6 L1113.3 337.6 L1113.4 339.5 L1113.6 341.5 L1113.7 343.5 L1113.9 345.5 L1114.0 347.5 L1114.2 349.5 L1114.3 351.5 L1114.5 353.5 L1114.7 355.5 L1114.8 357.4 L1115.0 359.4 L1115.1 361.4 L1115.3 363.4 L1115.5 365.4 L1115.7 367.4 L1115.8 369.4 L1116.0 371.4 L1116.2 373.4 L1116.4 375.4 L1116.6 377.4 L1116.8 379.4 L1117.0 381.4 L1117.2 383.4 L1117.4 385.4 L1117.6 387.4 L1117.8 389.4 L1118.0 391.4 L1118.2 393.4 L1118.4 395.4 L1118.6 397.4 L1118.9 399.4 L1119.1 401.4 L1119.3 403.4 L1119.5 405.5 L1119.8 407.5 L1120.0 409.5 L1120.3 411.5 L1120.6 413.5 L1120.8 415.5 L1121.1 417.6 L1121.5 419.6 L1121.8 421.5 L1122.2 423.5 L1122.6 425.5 L1123.0 427.4 L1123.5 429.4 L1124.0 431.3 L1124.5 433.2 L1125.1 435.1 L1125.7 437.0 L1126.3 438.9 L1127.0 440.7 L1127.8 442.5 L1128.6 444.3 L1129.5 446.0 L1130.4 447.8 L1131.4 449.5 L1132.4 451.2 L1133.5 452.8 L1134.7 454.4 L1135.9 456.0 L1137.2 457.5 L1138.6 459.0 L1140.1 460.5 L1142.1 460.6 L1144.2 460.6 L1146.2 460.6 L1148.2 460.6 L1150.3 460.6 L1152.3 460.6 L1154.3 460.6 L1156.4 460.5 L1158.4 460.4 L1160.4 460.4 L1162.4 460.3 L1164.5 460.2 L1166.5 460.1 L1168.5 460.0 L1170.6 459.8 L1172.6 459.7 L1174.6 459.6 L1176.6 459.4 L1178.6 459.2 L1180.7 459.1 L1182.7 458.9 L1184.7 458.7 L1186.7 458.5 L1188.7 458.3 L1190.8 458.1 L1192.8 457.9 L1194.8 457.7 L1196.8 457.4 L1198.8 457.2 L1200.9 457.0 L1202.9 456.8 L1204.9 456.5 L1206.9 456.3 L1208.9 456.0 L1210.9 455.8 L1213.0 455.5 L1215.0 455.3 L1217.0 455.0 L1219.0 454.8 L1221.0 454.5 L1223.0 454.2 L1225.0 454.0 L1227.1 453.7 L1229.1 453.4 L1231.1 453.2 L1233.1 452.9 L1235.1 452.6 L1237.1 452.3 L1239.1 452.1 L1241.2 451.8 L1243.2 451.5 L1245.2 451.2 L1247.2 450.9 L1249.2 450.7 L1251.2 450.4 L1253.2 450.1 L1255.2 449.8 L1257.3 449.5 L1259.3 449.2 L1261.3 448.9 L1263.3 448.6 L1265.3 448.4 L1267.3 448.1 L1269.3 447.8 L1271.3 447.5 L1273.4 447.2 L1275.4 446.9 L1277.4 446.6 L1279.4 446.4 L1281.4 446.1 L1283.4 445.8 L1285.4 445.5 L1287.4 445.2 L1289.5 445.0 L1291.5 444.7 L1293.5 444.4 L1295.5 444.1 L1297.5 443.9 L1299.5 443.6 L1301.5 443.3 L1303.6 443.1 L1305.6 442.8 L1307.6 442.5 L1309.6 442.3 L1311.6 442.0 L1313.6 441.8 L1315.7 441.5 L1317.7 441.3 L1319.7 441.1 L1321.7 440.8 L1323.7 440.6 L1325.7 440.3 L1327.8 440.1 L1329.8 439.9 L1331.8 439.7 L1333.8 439.5 L1335.8 439.3 L1337.9 439.0 L1339.9 438.8 L1341.9 438.6 L1343.9 438.5 L1346.0 438.3 L1348.0 438.1 L1350.0 437.9"/>
</g>
<filter id="bin" x="-5%" y="-5%" width="110%" height="110%"><feComponentTransfer><feFuncA type="discrete" tableValues="0 0 1 1 1"/></feComponentTransfer></filter>
<g filter="url(#bin)">

<g transform="translate(0,1649) scale(1,1.045)" font-size="66.5" text-anchor="middle">
<text x="138" y="0">100</text>
<text x="543.7" y="0">150</text>
<text x="947.8" y="0">200</text>
<text x="1353.5" y="0">250</text>
</g>
<text x="440.4" y="1755" font-size="87.1">Temperature</text>
<text x="907.5" y="1755" font-size="87.3" letter-spacing="0.5">(<tspan font-size="54" dy="-33.5">o</tspan><tspan dy="33.5" dx="0.5">C)</tspan></text>
<text transform="translate(81.3,565) rotate(-90)" font-size="87" text-anchor="middle">Heat Flow Endo Up (W/g)</text>
<text x="201" y="453" font-size="66.67">PA6-CF</text>
<text x="207" y="844" font-size="66.67">PA6-GF</text>
<text x="225.5" y="1365" font-size="66.67">PA6</text>
<text transform="translate(73.2,1443) rotate(-90)" font-size="66">1W/g</text>

</g>
<g stroke="#000" fill="#000">
<rect x="110" y="1300" width="3" height="148" stroke="none"/>
<polygon points="111.6,1278 120.4,1311.5 102.9,1311.5" stroke="none"/>
<polygon points="111.6,1469.5 120.4,1435.8 102.9,1435.8" stroke="none"/>
</g>
</svg>
</body></html>
